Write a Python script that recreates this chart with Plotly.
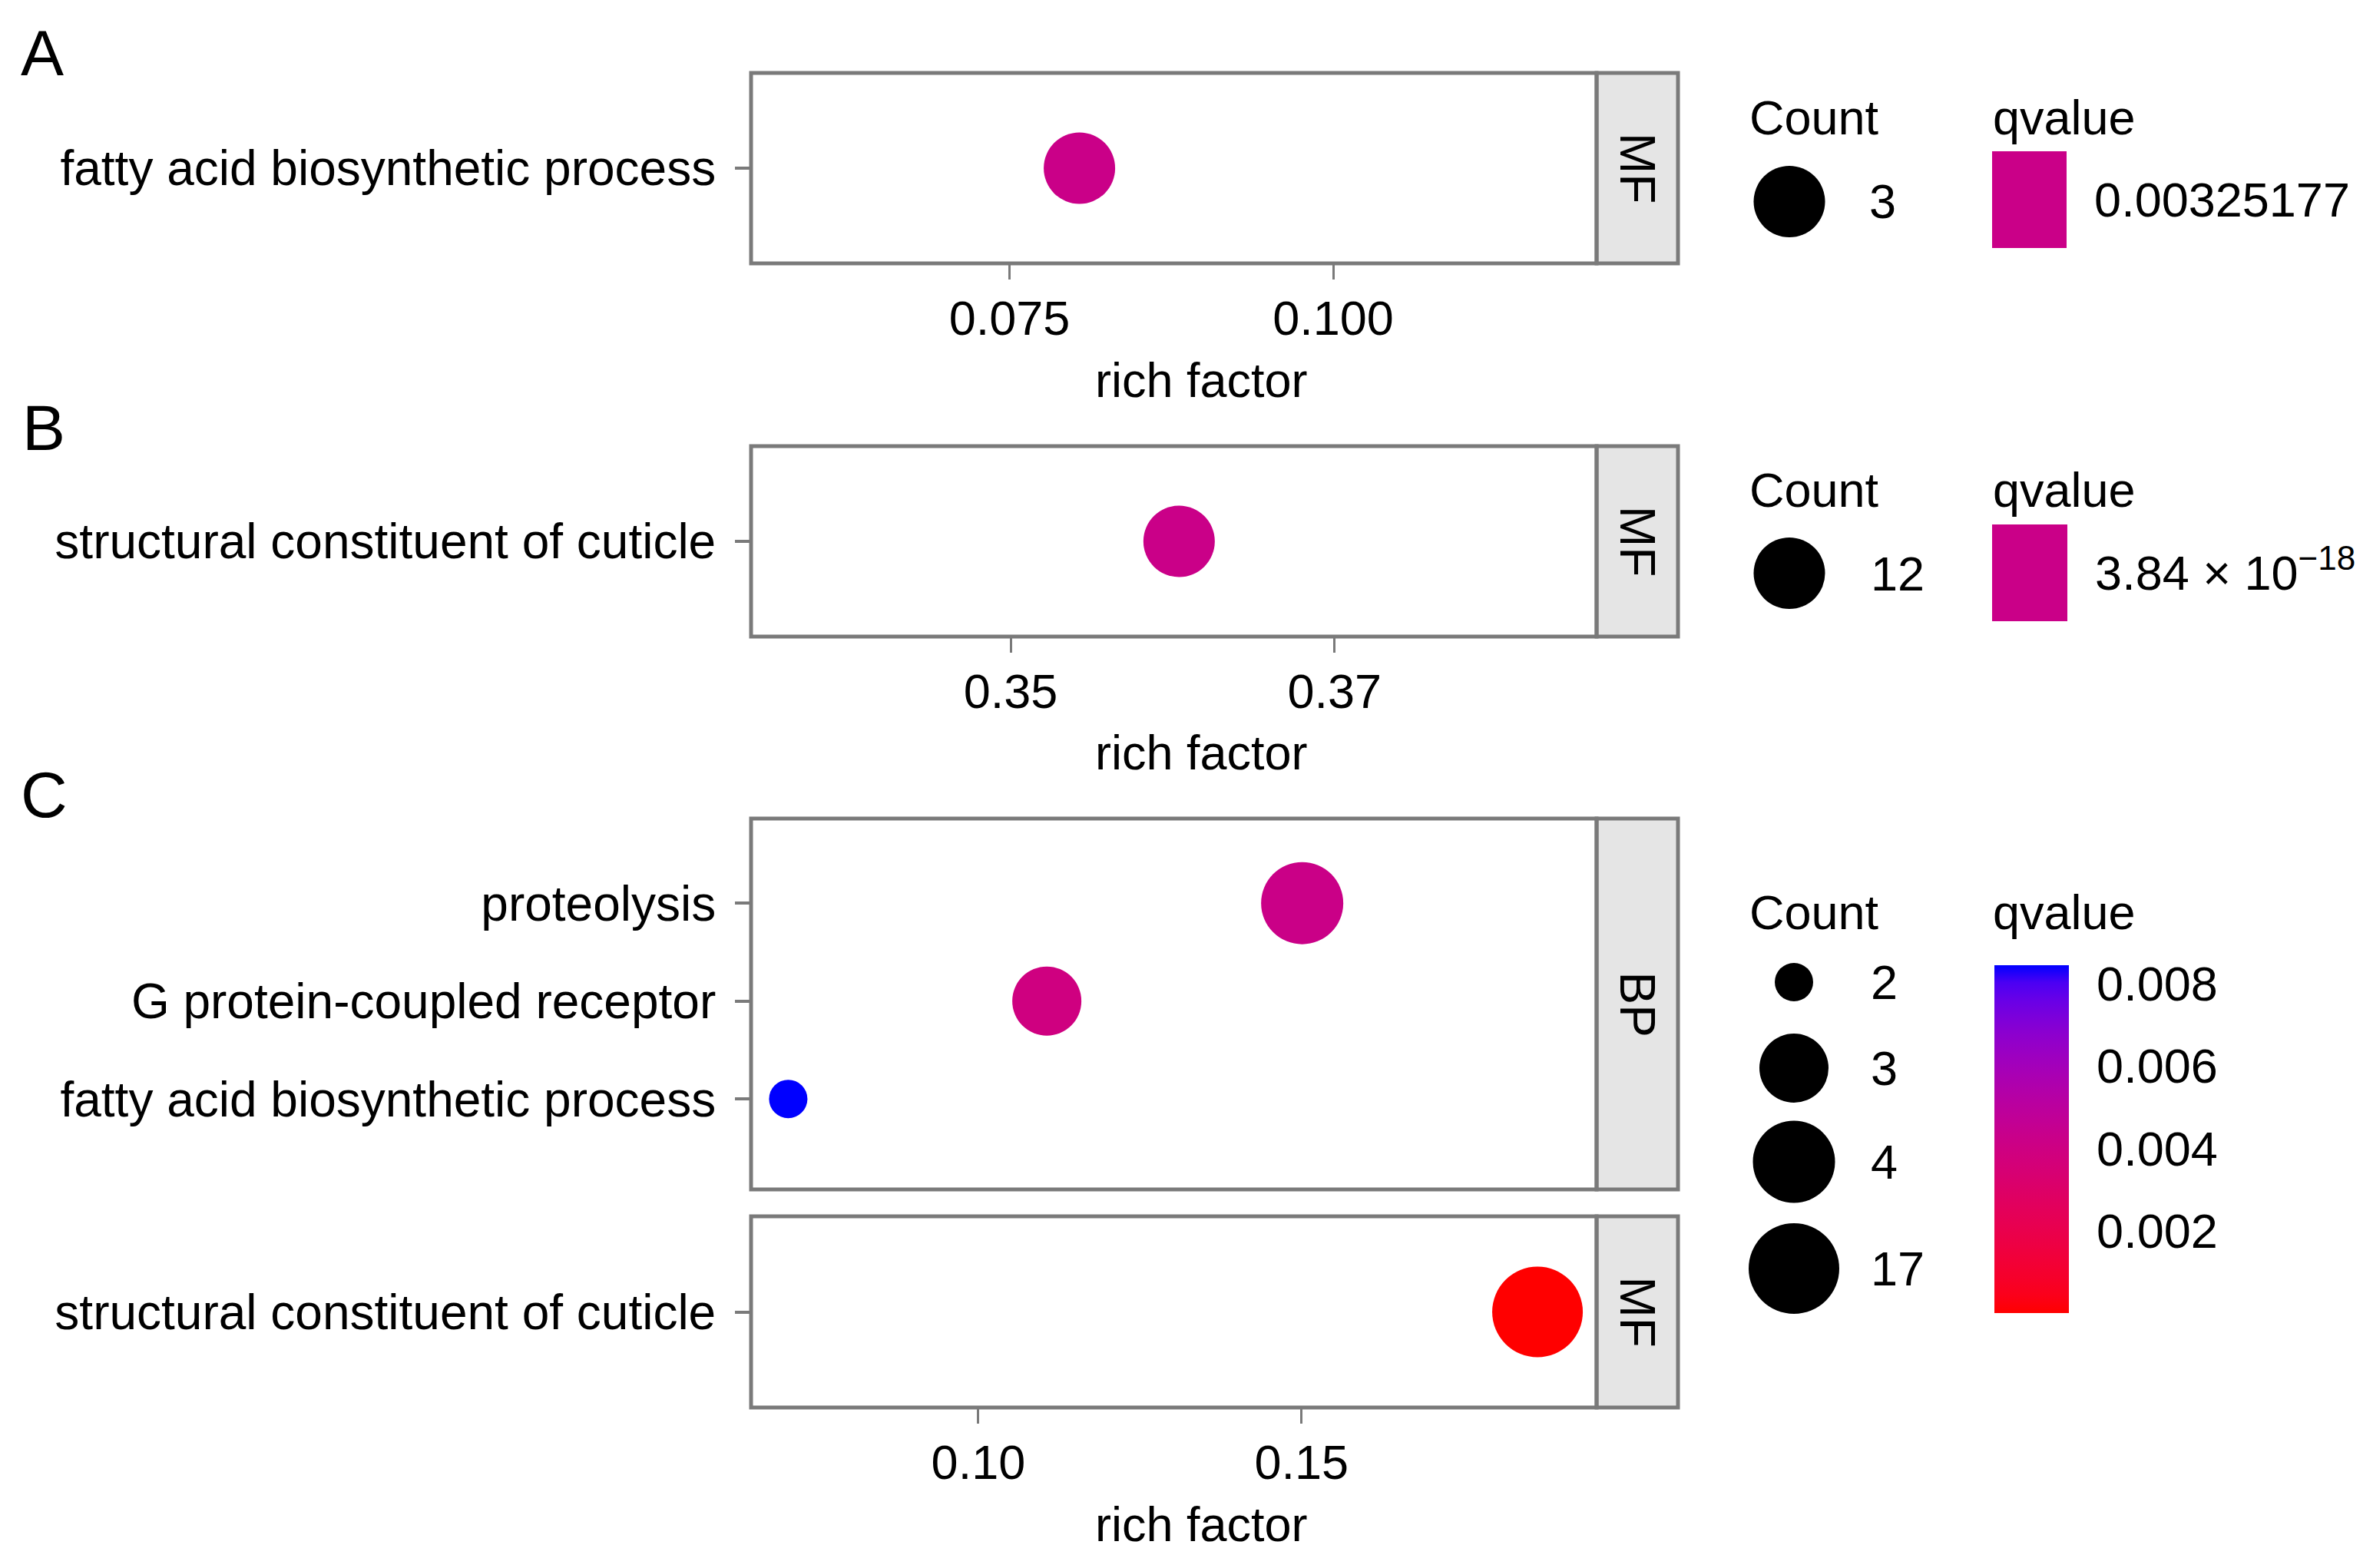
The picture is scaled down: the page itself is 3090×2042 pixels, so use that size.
import numpy as np
import plotly.graph_objects as go

W, H = 3090, 2042
FONT = "Liberation Sans, Arial, Helvetica, sans-serif"

# ---------------- data ----------------
a_terms = ["fatty acid biosynthetic process"]
a_rich = [0.0804]
a_count = [3]
a_q = [0.00325177]
a_facet = "MF"

b_terms = ["structural constituent of cuticle"]
b_rich = [0.3604]
b_count = [12]
b_q = [3.84e-18]
b_facet = "MF"

c_bp_terms = ["fatty acid biosynthetic process", "G protein-coupled receptor", "proteolysis"]
c_bp_rich = [0.0706, 0.1106, 0.1501]
c_bp_count = [2, 3, 4]
c_bp_q = [0.00845, 0.0039, 0.0042]
c_mf_terms = ["structural constituent of cuticle"]
c_mf_rich = [0.1865]
c_mf_count = [17]
c_mf_q = [1.0e-15]

a_xticks = [0.075, 0.100]
a_xticklabels = ["0.075", "0.100"]
b_xticks = [0.35, 0.37]
b_xticklabels = ["0.35", "0.37"]
c_xticks = [0.10, 0.15]
c_xticklabels = ["0.10", "0.15"]

c_count_breaks = [2, 3, 4, 17]
c_q_breaks = [0.002, 0.004, 0.006, 0.008]
c_q_labels = ["0.002", "0.004", "0.006", "0.008"]
a_q_label = "0.00325177"
b_q_label = "3.84 × 10<sup>−18</sup>"

# ---------------- style helpers ----------------
BORDER = "#7a7a7a"
STRIP = "#e5e5e5"
FS = 63
DX, DY = -7, -8  # global placement correction (px)


def px(x):
    return (x + DX) / W


def py(y):
    return 1 - (y + DY) / H


def _lin(c):
    c = c / 255.0
    return np.where(c <= 0.04045, c / 12.92, ((c + 0.055) / 1.055) ** 2.4)


def _gam(c):
    c = np.clip(c, 0, 1)
    return np.where(c <= 0.0031308, 12.92 * c, 1.055 * c ** (1 / 2.4) - 0.055) * 255


WP = np.array([0.95047, 1.0, 1.08883])
M = np.array([[0.4124, 0.3576, 0.1805], [0.2126, 0.7152, 0.0722], [0.0193, 0.1192, 0.9505]])


def rgb2lab(rgb):
    xyz = M @ _lin(np.array(rgb, float)) / WP
    f = np.where(xyz > 216 / 24389, np.cbrt(xyz), (24389 / 27 * xyz + 16) / 116)
    return np.array([116 * f[1] - 16, 500 * (f[0] - f[1]), 200 * (f[1] - f[2])])


def lab2rgb(lab):
    L, a, b = lab
    fy = (L + 16) / 116
    fx = fy + a / 500
    fz = fy - b / 200
    f = np.array([fx, fy, fz])
    xyz = np.where(f ** 3 > 216 / 24389, f ** 3, (116 * f - 16) / (24389 / 27)) * WP
    rgb = _gam(np.linalg.inv(M) @ xyz)
    return "rgb(%d,%d,%d)" % tuple(int(round(v)) for v in rgb)


LOW, HIGH = rgb2lab([255, 0, 0]), rgb2lab([0, 0, 255])
grad = [[t, lab2rgb(LOW + (HIGH - LOW) * t)] for t in np.linspace(0, 1, 21)]
mid = lab2rgb(LOW + (HIGH - LOW) * 0.5)
flat = [[0, mid], [1, mid]]

KEY_D = [50, 90, 107, 118]  # legend key diameters for C


def size_c(counts):
    return list(np.interp(counts, c_count_breaks, KEY_D))


SINGLE_D = 93

fig = go.Figure()

PX0, PX1, SX1 = 977, 2078, 2184
panels = {
    "A": (95, 343),
    "B": (581, 829),
    "C1": (1066, 1549),
    "C2": (1584, 1833),
}

# ---------------- traces ----------------
fig.add_trace(go.Scatter(x=a_rich, y=a_terms, mode="markers", xaxis="x", yaxis="y",
                         marker=dict(size=[SINGLE_D] * len(a_rich), color=a_q, coloraxis="coloraxis",
                                     line=dict(width=0), opacity=1), showlegend=False))
fig.add_trace(go.Scatter(x=b_rich, y=b_terms, mode="markers", xaxis="x2", yaxis="y2",
                         marker=dict(size=[SINGLE_D] * len(b_rich), color=b_q, coloraxis="coloraxis2",
                                     line=dict(width=0), opacity=1), showlegend=False))
fig.add_trace(go.Scatter(x=c_bp_rich, y=c_bp_terms, mode="markers", xaxis="x3", yaxis="y3",
                         marker=dict(size=size_c(c_bp_count), color=c_bp_q, coloraxis="coloraxis3",
                                     line=dict(width=0), opacity=1), showlegend=False))
fig.add_trace(go.Scatter(x=c_mf_rich, y=c_mf_terms, mode="markers", xaxis="x4", yaxis="y4",
                         marker=dict(size=size_c(c_mf_count), color=c_mf_q, coloraxis="coloraxis3",
                                     line=dict(width=0), opacity=1), showlegend=False))

# legend keys (size legends) on a pixel overlay axis
leg_x = [2329, 2329] + [2335] * 4
leg_y = [262.5, 746.5, 1279, 1391, 1513, 1652]
leg_d = [SINGLE_D, SINGLE_D] + KEY_D
fig.add_trace(go.Scatter(x=[v + DX for v in leg_x], y=[v + DY for v in leg_y], mode="markers",
                         xaxis="x5", yaxis="y5",
                         marker=dict(size=leg_d, color="#000000", opacity=1, line=dict(width=0)),
                         showlegend=False, hoverinfo="skip"))

# ---------------- axes ----------------
common_x = dict(showgrid=False, zeroline=False, showline=False, ticks="outside", ticklen=20,
                tickwidth=2.5, tickcolor=BORDER, tickfont=dict(family=FONT, size=FS, color="black"),
                ticklabelstandoff=-4)
common_y = dict(showgrid=False, zeroline=False, showline=False, ticks="outside", ticklen=20,
                tickwidth=4, tickcolor=BORDER, tickfont=dict(family=FONT, size=64, color="black"),
                type="category", ticklabelstandoff=12)

xd = [px(PX0), px(PX1)]


def ydom(key):
    t, b = panels[key]
    return [py(b), py(t)]


lay = dict(
    xaxis=dict(domain=xd, anchor="y", range=[0.05504, 0.12034], tickvals=a_xticks, ticktext=a_xticklabels, **common_x),
    yaxis=dict(domain=ydom("A"), anchor="x", categoryarray=a_terms, range=[-0.5, 0.5], **common_y),
    xaxis2=dict(domain=xd, anchor="y2", range=[0.33397, 0.38618], tickvals=b_xticks, ticktext=b_xticklabels, **common_x),
    yaxis2=dict(domain=ydom("B"), anchor="x2", categoryarray=b_terms, range=[-0.5, 0.5], **common_y),
    xaxis3=dict(domain=xd, anchor="y3", range=[0.06485, 0.19564], showticklabels=False, showgrid=False,
                zeroline=False, showline=False, ticks=""),
    yaxis3=dict(domain=ydom("C1"), anchor="x3", categoryarray=c_bp_terms, range=[-0.924, 2.864], **common_y),
    xaxis4=dict(domain=xd, anchor="y4", range=[0.06485, 0.19564], tickvals=c_xticks, ticktext=c_xticklabels, **common_x),
    yaxis4=dict(domain=ydom("C2"), anchor="x4", categoryarray=c_mf_terms, range=[-0.5, 0.5], **common_y),
    xaxis5=dict(domain=[0, 1], anchor="y5", range=[0, W], visible=False, fixedrange=True),
    yaxis5=dict(domain=[0, 1], anchor="x5", range=[H, 0], visible=False, fixedrange=True),
)


def cbar(x0, y0, length, thick, tickvals, ticktext):
    return dict(x=px(x0), xanchor="left", y=py(y0), yanchor="top", len=length, lenmode="pixels",
                thickness=thick, thicknessmode="pixels", outlinewidth=0, xpad=0, ypad=0,
                tickvals=tickvals, ticktext=ticktext, ticks="outside", ticklen=24,
                tickcolor="rgba(0,0,0,0)", tickfont=dict(family=FONT, size=FS, color="black"),
                title=dict(text=""))


qa = a_q[0]
qb = b_q[0]
c_min = min(c_bp_q + c_mf_q)
c_max = max(c_bp_q + c_mf_q)
lay["coloraxis"] = dict(colorscale=flat, cmin=qa * 0.5, cmax=qa * 1.5,
                        colorbar=cbar(2593, 197, 126, 97, [qa], [a_q_label]))
lay["coloraxis2"] = dict(colorscale=flat, cmin=qb * 0.5, cmax=qb * 1.5,
                         colorbar=cbar(2593, 683, 126, 98, [qb], [b_q_label]))
lay["coloraxis3"] = dict(colorscale=grad, cmin=c_min, cmax=c_max,
                         colorbar=cbar(2596, 1257, 453, 97, c_q_breaks, c_q_labels))

shapes = []
for key, (t, b) in panels.items():
    shapes.append(dict(type="rect", xref="paper", yref="paper", x0=px(PX1), x1=px(SX1), y0=py(b), y1=py(t),
                       line=dict(color=BORDER, width=5), fillcolor=STRIP, layer="above"))
    shapes.append(dict(type="rect", xref="paper", yref="paper", x0=px(PX0), x1=px(PX1), y0=py(b), y1=py(t),
                       line=dict(color=BORDER, width=5), fillcolor="rgba(0,0,0,0)", layer="above"))


def white_ticks(x0, top, length, thick, vals, vmin, vmax):
    out = []
    for v in vals:
        yy = top + length - (v - vmin) / (vmax - vmin) * length
        for a, b_ in ((x0, x0 + 19), (x0 + thick - 19, x0 + thick)):
            out.append(dict(type="line", xref="paper", yref="paper", x0=px(a), x1=px(b_), y0=py(yy), y1=py(yy),
                            line=dict(color="white", width=2.5), layer="above"))
    return out


shapes += white_ticks(2593, 197, 126, 97, [qa], qa * 0.5, qa * 1.5)
shapes += white_ticks(2593, 683, 126, 98, [qb], qb * 0.5, qb * 1.5)
shapes += white_ticks(2596, 1257, 453, 97, c_q_breaks, c_min, c_max)

ann = []


def text(s, x, y, size=FS, xanchor="left", yanchor="middle", angle=0):
    ann.append(dict(text=s, x=px(x), y=py(y), xref="paper", yref="paper", xanchor=xanchor, yanchor=yanchor,
                    showarrow=False, textangle=angle, font=dict(family=FONT, size=size, color="black")))


text("A", 24, 69, size=84)
text("B", 26, 557, size=84)
text("C", 24, 1035, size=84)
for yy in (495, 980, 1985):
    text("rich factor", 1564, yy, xanchor="center")
for key, lab_ in (("A", a_facet), ("B", b_facet), ("C1", "BP"), ("C2", "MF")):
    t, b = panels[key]
    text(lab_, (PX1 + SX1) / 2, (t + b) / 2, xanchor="center", angle=90, size=64)
for yy in (153, 638, 1188):
    text("Count", 2275, yy)
    text("qvalue", 2592, yy)
text(str(a_count[0]), 2431, 262.5)
text(str(b_count[0]), 2433, 746.5)
for cnt, yy in zip(c_count_breaks, leg_y[2:]):
    text(str(cnt), 2433, yy)

fig.update_layout(width=W, height=H, margin=dict(l=0, r=0, t=0, b=0), paper_bgcolor="white",
                  plot_bgcolor="rgba(0,0,0,0)", shapes=shapes, annotations=ann, showlegend=False,
                  font=dict(family=FONT), **lay)

fig.write_html("out.html")
